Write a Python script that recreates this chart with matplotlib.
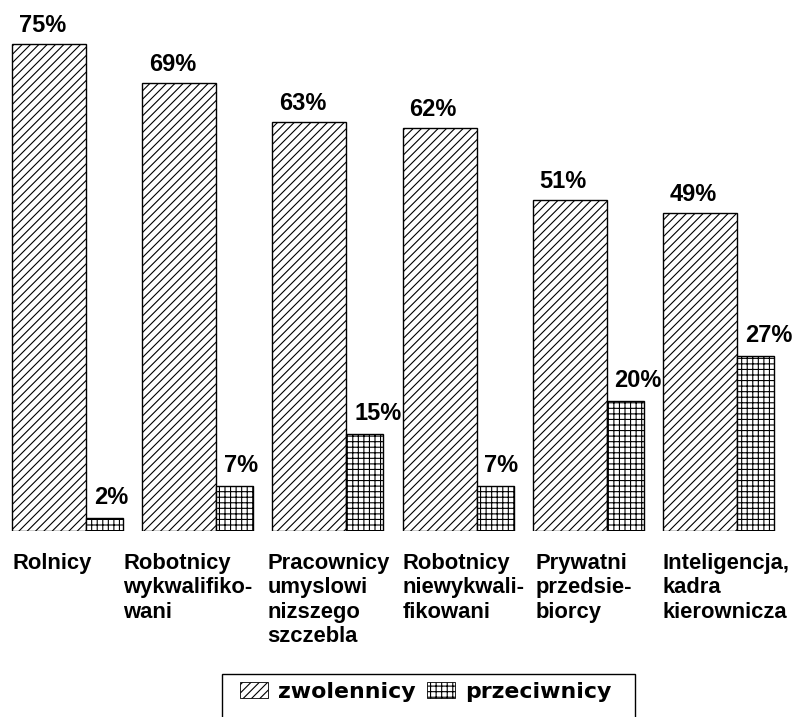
import numpy as np
import matplotlib.pyplot as plt
from matplotlib.patches import Patch, Rectangle

# dane z wykresu
categories = ['Rolnicy',
              'Robotnicy\nwykwalifiko-\nwani',
              'Pracownicy\numyslowi\nnizszego\nszczebla',
              'Robotnicy\nniewykwali-\nfikowani',
              'Prywatni\nprzedsie-\nbiorcy',
              'Inteligencja,\nkadra\nkierownicza']
zwolennicy = [75, 69, 63, 62, 51, 49]
przeciwnicy = [2, 7, 15, 7, 20, 27]
series_names = ['zwolennicy', 'przeciwnicy']

plt.rcParams['hatch.color'] = 'black'
plt.rcParams['hatch.linewidth'] = 0.8

W, H = 798, 717
fig = plt.figure(figsize=(W / 100, H / 100), dpi=100)
ax = fig.add_axes([0, 186 / H, 1, 531 / H])

x = np.arange(len(categories))
w1 = 0.568
w2 = 0.284

ax.bar(x, zwolennicy, width=w1, align='edge', color='white',
       edgecolor='black', linewidth=1, hatch='////')
ax.bar(x + w1, przeciwnicy, width=w2, align='edge', color='white',
       edgecolor='black', linewidth=1, hatch='+++')

val_font = dict(family='Liberation Sans', weight='bold', fontsize=17)
for i in range(len(categories)):
    ax.annotate(f'{zwolennicy[i]}%', (x[i] + 0.05, zwolennicy[i]),
                xytext=(0, 8.6), textcoords='offset points',
                ha='left', va='baseline', **val_font)
    ax.annotate(f'{przeciwnicy[i]}%', (x[i] + w1 + 0.06, przeciwnicy[i]),
                xytext=(0, 10), textcoords='offset points',
                ha='left', va='baseline', **val_font)

# przesuniecia podpisow kategorii
label_dx = [0.0, -0.145, -0.04, 0.0, 0.02, 0.0]
for i, cat in enumerate(categories):
    ax.annotate(cat, (x[i] + label_dx[i], 0), xytext=(0, -16),
                textcoords='offset points', ha='left', va='top',
                family='Liberation Sans', weight='bold', fontsize=15.8,
                linespacing=1.2, annotation_clip=False)

ax.set_xlim(-12 / 130.2, (W - 12) / 130.2)
ax.set_ylim(0, 531 / 6.5)
ax.axis('off')

handles = [Patch(facecolor='white', edgecolor='black', linewidth=0.6, hatch='////'),
           Patch(facecolor='white', edgecolor='black', linewidth=0.6, hatch='+++')]
fig.legend(handles, series_names, loc='center', ncol=2,
           bbox_to_anchor=(425.5 / W, 25 / H), frameon=False,
           prop=dict(family='DejaVu Sans', weight='bold', size=15.8),
           handlelength=1.3, handleheight=0.75, handletextpad=0.45,
           columnspacing=0.5)
fig.patches.append(Rectangle((222 / W, -0.05), 413 / W, 0.05 + 43 / H,
                             transform=fig.transFigure, facecolor='none',
                             edgecolor='black', linewidth=1))

plt.savefig('out.png', dpi=100)
